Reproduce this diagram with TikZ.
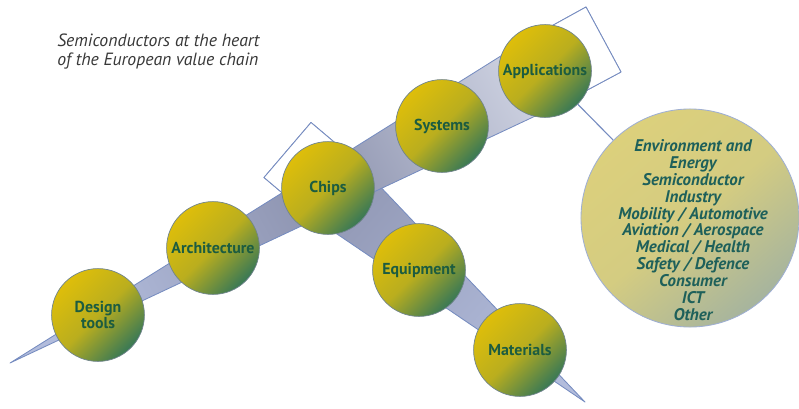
\documentclass[tikz,border=0pt]{standalone}
\usepackage{fontspec}
\setmainfont{PT Sans}
\definecolor{bandlight}{RGB}{178,188,220}
\definecolor{banddark}{RGB}{140,146,174}
\definecolor{bandpale}{RGB}{212,216,230}
\definecolor{bandedge}{RGB}{118,140,192}
\definecolor{ballyellow}{RGB}{222,190,10}
\definecolor{ballolive}{RGB}{186,174,30}
\definecolor{ballgreen}{RGB}{56,120,86}
\definecolor{balledge}{RGB}{112,132,140}
\definecolor{balltext}{RGB}{28,92,64}
\definecolor{envfill}{RGB}{220,208,124}
\definecolor{envshade}{RGB}{166,180,158}
\definecolor{envtext}{RGB}{30,96,90}
\definecolor{titletext}{RGB}{56,56,56}
\begin{document}
\begin{tikzpicture}[x = 0.025cm, y = -0.025cm,
        ball/.style = {circle, draw = balledge, line width = 0.5pt, minimum size = 2.32cm,
            inner sep = 0pt, top color = ballyellow, bottom color = ballgreen,
            middle color = ballolive, shading angle = 45,
            text = balltext, font = \fontsize{11.3}{12}\selectfont\bfseries, align = center},
        band/.style = {draw = bandedge, line width = 0.6pt, line join = round}]
    \useasboundingbox (0, 0) rectangle (799, 408);

    % Chips -> Materials
    \draw [band, left color = bandlight, right color = banddark, shading angle = 229.7]
        (311, 122.5) -- (264, 177.5) -- (306, 213) -- (585, 402) -- (353, 158) -- cycle;
    \draw [band, fill = white]
        (311, 122.5) -- (264, 177.5) -- (306, 213) -- (353, 158) -- cycle;

    % Design tools -> Applications
    \draw [band, left color = bandlight, right color = bandpale, middle color = banddark,
            shading angle = 118.6]
        (10, 363) -- (563, 103) -- (621, 72) -- (586, 7) -- (528, 39) -- cycle;
    \draw [band, fill = white]
        (528, 39) -- (563, 103) -- (621, 72) -- (586, 7) -- cycle;

    \node [ball] (DT) at (98, 315) {Design\\tools};
    \node [ball] (AR) at (213, 248) {Architecture};
    \node [ball] (CH) at (328, 188) {Chips};
    \node [ball] (SY) at (442, 126) {Systems};
    \node [ball] (AP) at (545, 71) {Applications};
    \node [ball] (EQ) at (419, 270) {Equipment};
    \node [ball] (MA) at (520, 350) {Materials};

    \node [circle, draw = bandedge!70, line width = 0.6pt, minimum size = 5.45cm,
            top color = envfill, bottom color = envshade, middle color = envfill!85!envshade,
            shading angle = 40] (EN) at (690, 218) {};
    \node [text = envtext, font = \fontsize{12}{12}\selectfont\bfseries\itshape, align = center]
        (ENL) at (693, 230) {Environment and\\Energy\\Semiconductor\\Industry\\Mobility / Automotive\\
        Aviation / Aerospace\\Medical / Health\\Safety / Defence\\Consumer\\ICT\\Other};
    \draw [bandedge, line width = 0.8pt] (AP) -- (EN);

    \node [anchor = north west, text = titletext, font = \fontsize{12.6}{13.5}\selectfont\itshape,
            align = left, inner sep = 0pt] (T) at (57, 34)
        {Semiconductors at the heart\\of the European value chain};
\end{tikzpicture}
\end{document}
